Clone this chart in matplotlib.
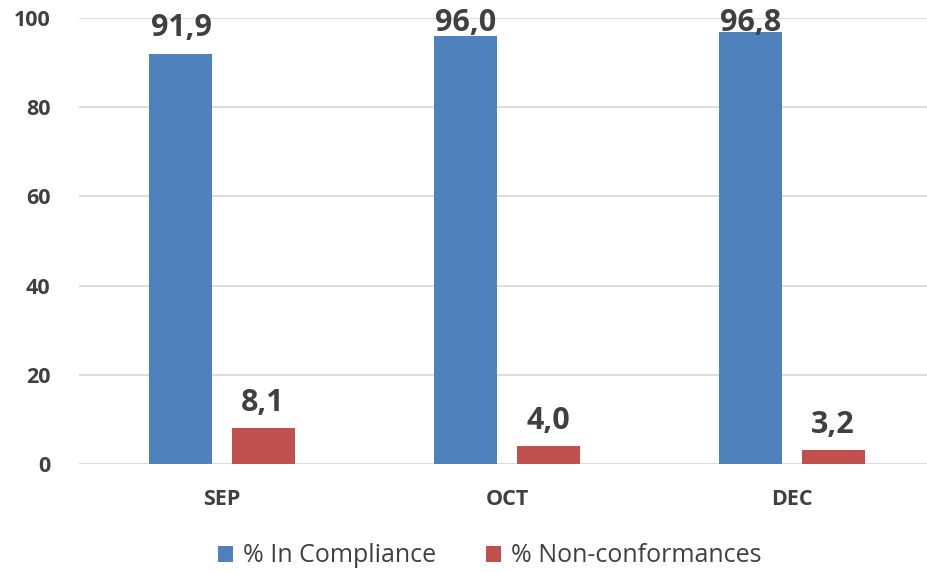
import matplotlib
matplotlib.use("Agg")
import matplotlib.pyplot as plt
import numpy as np

months = ["SEP", "OCT", "DEC"]
compliance = [91.9, 96.0, 96.8]
nonconf = [8.1, 4.0, 3.2]
series_names = ["% In Compliance", "% Non-conformances"]
yticks = [0, 20, 40, 60, 80, 100]

BLUE = "#4F81BD"
RED = "#C0504D"
TXT = "#404040"

plt.rcParams["font.family"] = ["Open Sans", "DejaVu Sans"]

fig = plt.figure(figsize=(9.28, 5.72), dpi=100)
W, H = 928, 572
left_px, right_px = 79.5, 934.5
y0_px, y100_px = 464, 18
ax = fig.add_axes([left_px / W, (H - y0_px) / H, (right_px - left_px) / W, (y0_px - y100_px) / H])

x = np.arange(len(months))
bw = 0.221
off = 0.144
b1 = ax.bar(x - off, compliance, bw, color=BLUE, label=series_names[0], zorder=3)
b2 = ax.bar(x + off, nonconf, bw, color=RED, label=series_names[1], zorder=3)

def fmt(v):
    return f"{v:.1f}".replace(".", ",")

for xi, v in zip(x - off, compliance):
    ax.text(xi, min(v + 2.6, 95.6), fmt(v), ha="center", va="bottom", fontsize=22,
            fontweight="bold", color=TXT, zorder=4, clip_on=False)
for xi, v in zip(x + off, nonconf):
    ax.text(xi, v + 2.2, fmt(v), ha="center", va="bottom", fontsize=22,
            fontweight="bold", color=TXT, zorder=4, clip_on=False)

ax.set_xlim(-0.5, 2.5)
ax.set_ylim(0, 100)
ax.set_yticks(yticks)
ax.set_yticklabels([str(t) for t in yticks], fontsize=15.5, fontweight="bold", color=TXT)
ax.set_xticks(x)
ax.set_xticklabels(months, fontsize=15.5, fontweight="bold", color=TXT)
ax.tick_params(axis="both", length=0)
ax.tick_params(axis="y", pad=21)
ax.tick_params(axis="x", pad=18)
ax.grid(axis="y", color="#D9D9D9", linewidth=1.3, zorder=0)
for s in ax.spines.values():
    s.set_visible(False)

leg = fig.legend(handles=[b1, b2], labels=series_names, loc="center", bbox_to_anchor=(490 / W, 1 - 556 / H),
                 ncol=2, frameon=False, fontsize=18, handlelength=0.6, handleheight=0.6,
                 handletextpad=0.4, columnspacing=2.0)
for t in leg.get_texts():
    t.set_color(TXT)

fig.savefig("out.png", dpi=100)
